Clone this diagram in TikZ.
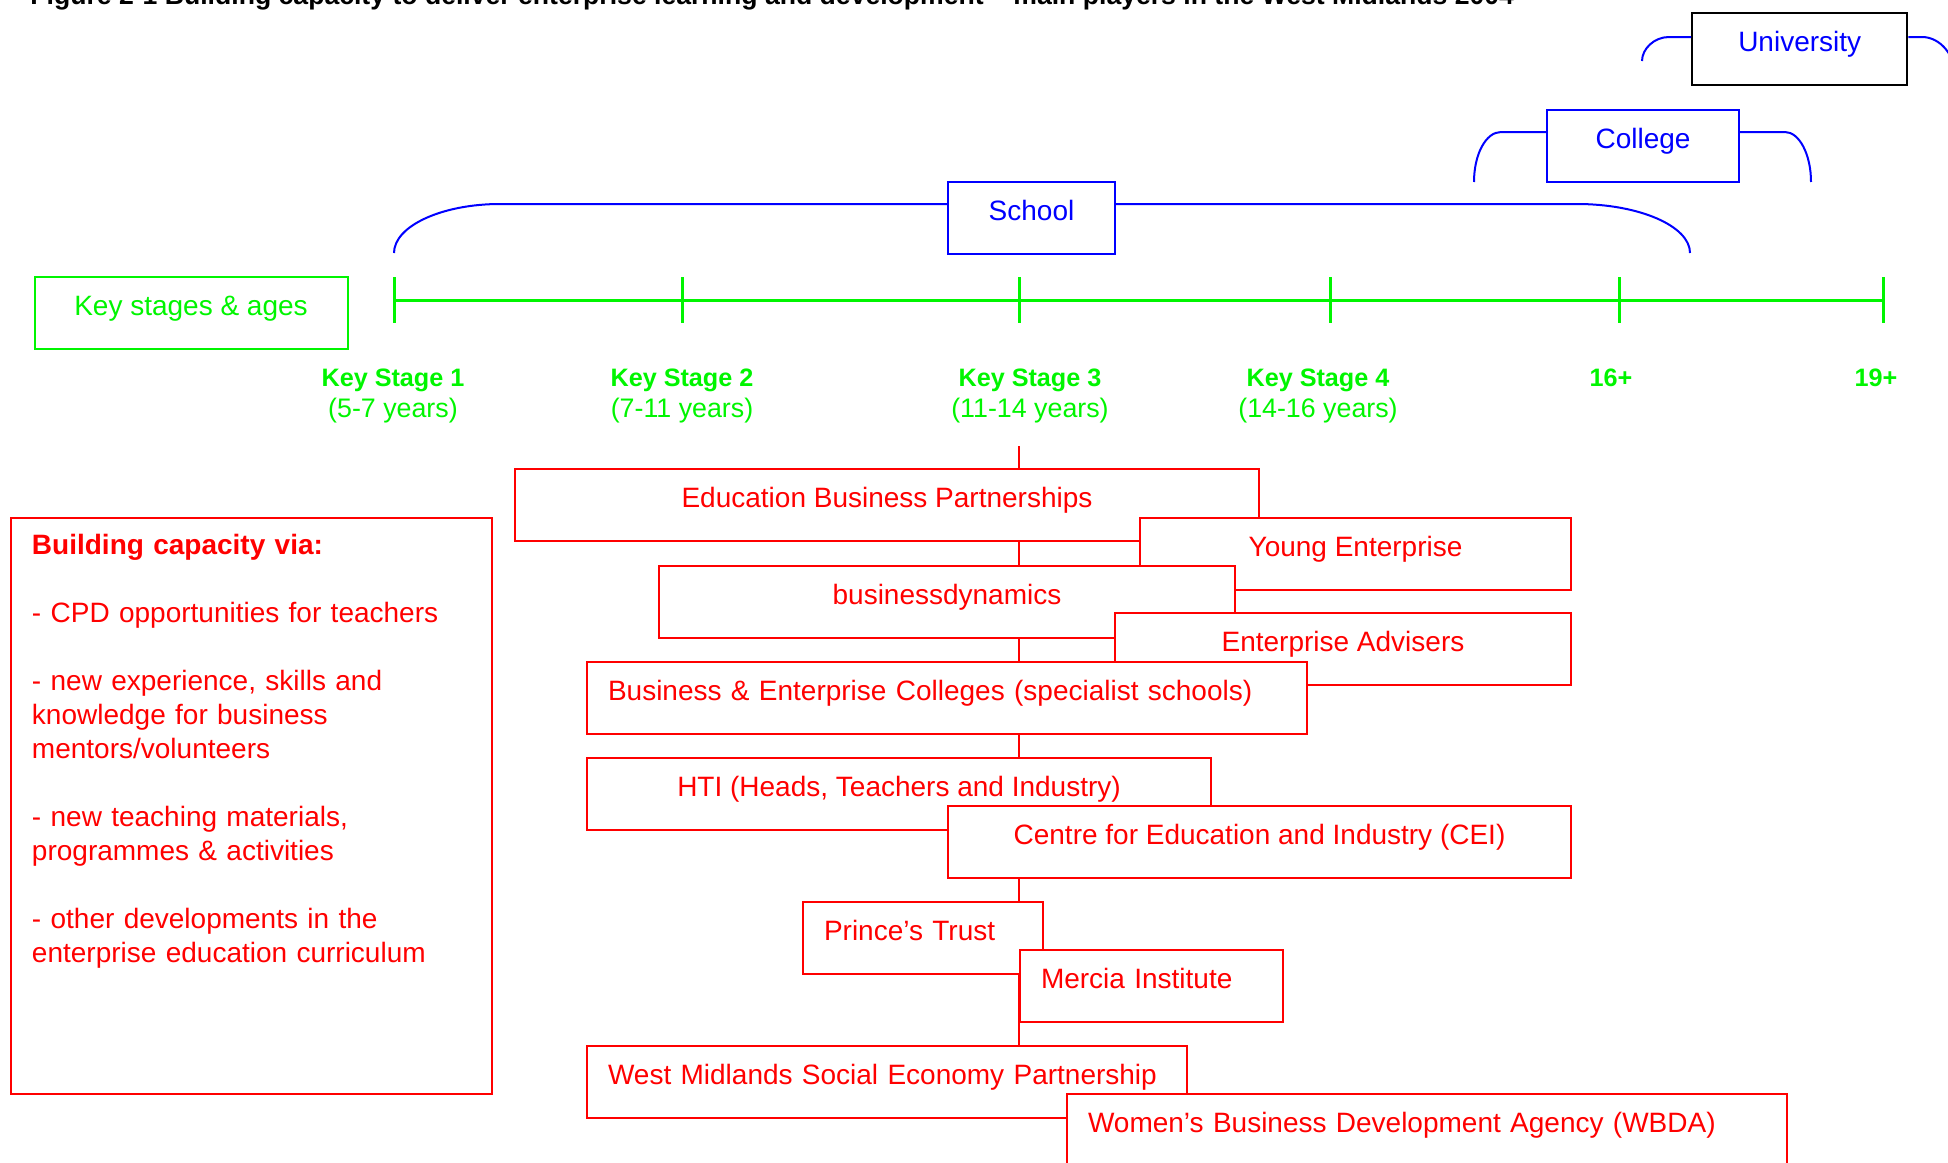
\documentclass[tikz,border=0pt]{standalone}
\usepackage{fontspec}
\setmainfont{Liberation Sans}
\usetikzlibrary{backgrounds}
\definecolor{kred}{RGB}{255,0,0}
\definecolor{kgreen}{RGB}{0,245,0}
\definecolor{kblue}{RGB}{0,0,255}
\tikzstyle{heading} = [anchor=base west, inner sep=0pt, font={\fontsize{13.3}{16}\selectfont\bfseries}]
\tikzstyle{sector} = [draw=kblue, line width=1pt, text=kblue, fill=white, anchor=north west, minimum height=36pt, inner sep=0pt, text height=10pt, text depth=7.5pt, font={\fontsize{14}{17}\selectfont}]
\tikzstyle{brace} = [draw=kblue, line width=1pt]
\tikzstyle{stagebox} = [sector, draw=kgreen, text=kgreen]
\tikzstyle{stageline} = [draw=kgreen, line width=1.5pt]
\tikzstyle{stagename} = [anchor=base, inner sep=0pt, text=kgreen, font={\fontsize{12.6}{15}\selectfont\bfseries}]
\tikzstyle{stageage} = [anchor=base, inner sep=0pt, text=kgreen, font={\fontsize{13.4}{16}\selectfont}]
\tikzstyle{player} = [sector, draw=kred, text=kred]
\tikzstyle{leftplayer} = [player, align=left, inner xsep=10.5pt]
\tikzstyle{spine} = [draw=kred, line width=0.6pt]
\tikzstyle{capacity} = [draw=kred, line width=1pt, text=kred, anchor=north west, align=left, text width=219.5pt, inner xsep=10.5pt, inner ysep=0pt, text height=18pt, text depth=270pt, font={\fontsize{14}{17}\selectfont}]

\begin{document}
\begin{tikzpicture}[x=0.5pt,y=-0.5pt]
        \useasboundingbox (0,0) rectangle (1948,1162);
        \node[heading] (title) at (30,4) {Figure 2-1 Building capacity to deliver enterprise learning and development -- main players in the West Midlands 2004};
        % school, college, university
        \node[sector,draw=black,line width=1.2pt,minimum width=107.5pt] (uni) at (1691,12) {University};
        \node[sector,minimum width=96pt] (college) at (1546,109) {College};
        \node[sector,minimum width=83.5pt] (school) at (947,181) {School};
        \draw[brace] (uni.north west) ++(0,25) -- (1669,37) .. controls (1654,37) and (1642,49) .. (1642,61);
        \draw[brace] (uni.north east) ++(0,25) -- (1922,37) .. controls (1940,37) and (1956,55) .. (1956,80);
        \draw[brace] (college.north west) ++(0,23) -- (1501,132) .. controls (1486,132) and (1474,154) .. (1474,182);
        \draw[brace] (college.north east) ++(0,23) -- (1785,132) .. controls (1799,132) and (1811,154) .. (1811,182);
        \draw[brace] (school.north west) ++(0,23) -- (500,204) .. controls (442,204) and (394,226) .. (394,253);
        \draw[brace] (school.north east) ++(0,23) -- (1577,204) .. controls (1639,204) and (1690,226) .. (1690,253);
        % key stages
        \node[stagebox,minimum width=156.5pt] (stages) at (33.5,276) {Key stages \& ages};
        \coordinate (t1) at (394,300);
        \coordinate (t2) at (682,300);
        \coordinate (t3) at (1019,300);
        \coordinate (t4) at (1330,300);
        \coordinate (t5) at (1619,300);
        \coordinate (t6) at (1883,300);
        \draw[stageline] (t1) -- (t6);
        \draw[stageline] (t1) ++(0,-23) -- ++(0,46);
        \draw[stageline] (t2) ++(0,-23) -- ++(0,46);
        \draw[stageline] (t3) ++(0,-23) -- ++(0,46);
        \draw[stageline] (t4) ++(0,-23) -- ++(0,46);
        \draw[stageline] (t5) ++(0,-23) -- ++(0,46);
        \draw[stageline] (t6) ++(0,-23) -- ++(0,46);
        \node[stagename] (ks1) at (393,386) {Key Stage 1};
        \node[stageage] (ks1age) at (393,417) {(5-7 years)};
        \node[stagename] (ks2) at (682,386) {Key Stage 2};
        \node[stageage] (ks2age) at (682,417) {(7-11 years)};
        \node[stagename] (ks3) at (1030,386) {Key Stage 3};
        \node[stageage] (ks3age) at (1030,417) {(11-14 years)};
        \node[stagename] (ks4) at (1318,386) {Key Stage 4};
        \node[stageage] (ks4age) at (1318,417) {(14-16 years)};
        \node[stagename] (p16) at (1611,386) {16+};
        \node[stagename] (p19) at (1876,386) {19+};
        % building capacity
        \node[capacity] (capacity) at (10,517) {\textbf{Building capacity via:}\\[17pt]
          - CPD opportunities for teachers\\[17pt]
          - new experience, skills and\\ knowledge for business\\ mentors/volunteers\\[17pt]
          - new teaching materials,\\ programmes \& activities\\[17pt]
          - other developments in the\\ enterprise education curriculum};
        % main players
        \node[player,minimum width=372pt] (ebp) at (514,468) {Education Business Partnerships};
        \node[player,minimum width=215.5pt] (young) at (1139,517) {Young Enterprise};
        \node[player,minimum width=288pt] (bdyn) at (658,565) {businessdynamics};
        \node[player,minimum width=228pt] (advisers) at (1114,612) {Enterprise Advisers};
        \node[leftplayer,text width=339pt] (bec) at (586,661) {Business \& Enterprise Colleges (specialist schools)};
        \node[player,minimum width=312pt] (hti) at (586,757) {HTI (Heads, Teachers and Industry)};
        \node[player,minimum width=311.5pt] (cei) at (947,805) {Centre for Education and Industry (CEI)};
        \node[leftplayer,text width=99pt] (prince) at (802,901) {Prince's Trust};
        \node[leftplayer,text width=110.5pt] (mercia) at (1019,949) {Mercia Institute};
        \node[leftplayer,text width=279pt] (wmsep) at (586,1045) {West Midlands Social Economy Partnership};
        \node[leftplayer,text width=339pt] (wbda) at (1066,1093) {Women's Business Development Agency (WBDA)};
        \coordinate (spinetop) at (1019,446);
        \begin{pgfonlayer}{background}
          \draw[spine] (spinetop) -- (spinetop |- wmsep.north);
        \end{pgfonlayer}
\end{tikzpicture}
\end{document}
